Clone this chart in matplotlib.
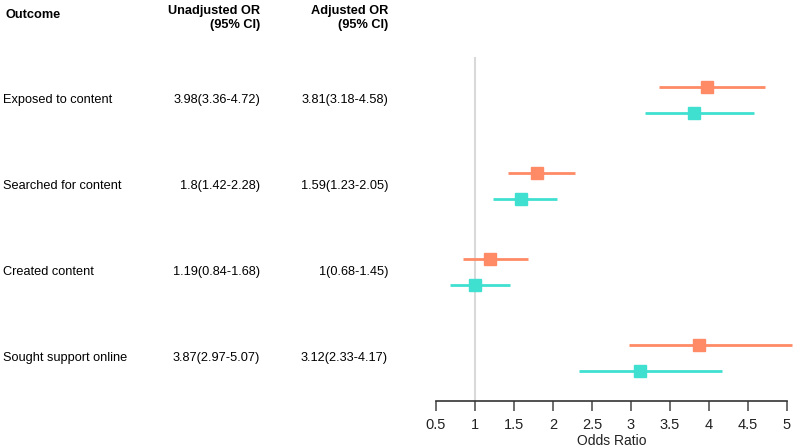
import matplotlib
matplotlib.use("Agg")
import matplotlib.pyplot as plt
import numpy as np

plt.rcParams['font.family'] = ['Liberation Sans', 'DejaVu Sans']

outcomes = ["Exposed to content", "Searched for content", "Created content", "Sought support online"]
unadj_or = [3.98, 1.8, 1.19, 3.87]
unadj_lo = [3.36, 1.42, 0.84, 2.97]
unadj_hi = [4.72, 2.28, 1.68, 5.07]
adj_or = [3.81, 1.59, 1.0, 3.12]
adj_lo = [3.18, 1.23, 0.68, 2.33]
adj_hi = [4.58, 2.05, 1.45, 4.17]
unadj_text = ["3.98(3.36-4.72)", "1.8(1.42-2.28)", "1.19(0.84-1.68)", "3.87(2.97-5.07)"]
adj_text = ["3.81(3.18-4.58)", "1.59(1.23-2.05)", "1(0.68-1.45)", "3.12(2.33-4.17)"]
xticks = [0.5, 1, 1.5, 2, 2.5, 3, 3.5, 4, 4.5, 5]
xticklabels = ["0.5", "1", "1.5", "2", "2.5", "3", "3.5", "4", "4.5", "5"]

W, H = 794, 448
fig = plt.figure(figsize=(W / 100, H / 100), dpi=100)

def fx(px):
    return px / W

def fy(py):
    return 1 - py / H

ax = fig.add_axes([fx(436), fy(401), fx(787) - fx(436), fy(57) - fy(401)])
ax.set_xlim(0.5, 5)
ax.set_ylim(3.5, -0.5)

orange = "#FF8A66"
teal = "#40E0D0"
off = 0.15
rows = np.arange(len(outcomes))

ax.axvline(1, color="#d9d9d9", lw=1.5, zorder=0)

for i in rows:
    ax.plot([unadj_lo[i], unadj_hi[i]], [i - off, i - off], color=orange, lw=2, clip_on=False, solid_capstyle='butt')
    ax.plot([unadj_or[i]], [i - off], marker='s', ms=8, color=orange, clip_on=False, ls='none')
    ax.plot([adj_lo[i], adj_hi[i]], [i + off, i + off], color=teal, lw=2, clip_on=False, solid_capstyle='butt')
    ax.plot([adj_or[i]], [i + off], marker='s', ms=8, color=teal, clip_on=False, ls='none')

for s in ["top", "right", "left"]:
    ax.spines[s].set_visible(False)
ax.spines["bottom"].set_color("#333333")
ax.spines["bottom"].set_linewidth(1.2)
ax.set_yticks([])
ax.set_xticks(xticks)
ax.set_xticklabels(xticklabels, fontsize=10.5, color="#222222")
ax.tick_params(axis='x', direction='out', length=7, width=1.2, color="#555555", pad=5)
ax.set_xlabel("Odds Ratio", fontsize=10, labelpad=2, color="#222222")
ax.patch.set_alpha(0)

fs = 9.2
fig.text(fx(5), fy(15), "Outcome", fontsize=fs, fontweight='bold', va='center', ha='left')
fig.text(fx(260), fy(18), "Unadjusted OR\n(95% CI)", fontsize=fs, fontweight='bold', va='center', ha='right', multialignment='right', linespacing=1.3)
fig.text(fx(388), fy(18), "Adjusted OR\n(95% CI)", fontsize=fs, fontweight='bold', va='center', ha='right', multialignment='right', linespacing=1.3)

for i in rows:
    yf = ax.transData.transform((0.5, i))[1] / H
    fig.text(fx(3), yf, outcomes[i], fontsize=fs, va='center', ha='left')
    fig.text(fx(260), yf, unadj_text[i], fontsize=fs, va='center', ha='right')
    fig.text(fx(388), yf, adj_text[i], fontsize=fs, va='center', ha='right')

fig.savefig("out.png", dpi=100, facecolor="white")
